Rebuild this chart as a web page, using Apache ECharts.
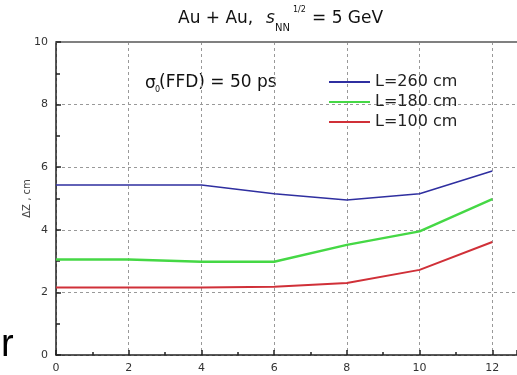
<!DOCTYPE html>
<html>
<head>
<meta charset="utf-8">
<script src="https://cdn.jsdelivr.net/npm/echarts@6/dist/echarts.min.js"></script>
<style>
html,body{margin:0;padding:0;background:#fff;}
#c{width:517px;height:375px;}
</style>
</head>
<body>
<div id="c"></div>
<script>
var xValues = [0, 2, 4, 6, 8, 10, 12];
var seriesNames = ['L=260 cm', 'L=180 cm', 'L=100 cm'];
var L260 = [5.43, 5.43, 5.43, 5.15, 4.95, 5.15, 5.88];
var L180 = [3.05, 3.05, 2.98, 2.98, 3.52, 3.95, 4.98];
var L100 = [2.16, 2.16, 2.16, 2.18, 2.30, 2.72, 3.61];
var colors = ['#2f2fa0', '#45d845', '#d03038'];
var widths = [1.6, 2.4, 2.0];
var yLabel = 'ΔZ , cm';
var annotation = '(FFD) = 50 ps';

function pairs(arr) { return xValues.map(function (x, i) { return [x, arr[i]]; }); }
var allData = [L260, L180, L100];

var font = 'DejaVu Sans';
var chart = echarts.init(document.getElementById('c'), null, {renderer: 'canvas'});
chart.setOption({
  animation: false,
  backgroundColor: '#fff',
  textStyle: {fontFamily: font},
  grid: {left: 56, top: 42, right: 0, bottom: 20, containLabel: false},
  legend: {
    orient: 'vertical', left: 329, top: 74, itemWidth: 41, itemHeight: 2, itemGap: 4,
    padding: 0,
    icon: 'rect',
    textStyle: {fontFamily: font, fontSize: 16, color: '#222'},
    data: seriesNames
  },
  xAxis: [{
    type: 'value', min: 0, max: 12.68, interval: 2,
    axisLine: {show: true, lineStyle: {color: '#222', width: 1.5}},
    axisTick: {show: true, inside: true, length: 5, lineStyle: {color: '#222', width: 1.5}},
    minorTick: {show: true, splitNumber: 2, length: 3, lineStyle: {color: '#222', width: 1.5}},
    axisLabel: {color: '#333', fontSize: 11, margin: 8, showMaxLabel: false, fontFamily: font},
    splitLine: {show: true, lineStyle: {color: '#999', type: [3, 3], width: 1}}
  }, {
    type: 'value', position: 'top', min: 0, max: 12.68,
    axisLine: {show: true, lineStyle: {color: '#808080', width: 2}},
    axisTick: {show: false}, axisLabel: {show: false}, splitLine: {show: false}
  }],
  yAxis: {
    type: 'value', min: 0, max: 10, interval: 2,
    name: yLabel, nameLocation: 'middle', nameGap: 24, nameRotate: 90, nameMoveOverlap: false,
    nameTextStyle: {color: '#444', fontSize: 10, fontFamily: font},
    axisLine: {show: true, lineStyle: {color: '#222', width: 1.5}},
    axisTick: {show: true, inside: true, length: 5, lineStyle: {color: '#222', width: 1.5}},
    minorTick: {show: true, splitNumber: 2, length: 4, lineStyle: {color: '#222', width: 1.5}},
    axisLabel: {color: '#333', fontSize: 11, margin: 8, fontFamily: font},
    splitLine: {show: true, lineStyle: {color: '#999', type: [3, 3], width: 1}}
  },
  series: seriesNames.map(function (n, i) {
    return {
      name: n, type: 'line', data: pairs(allData[i]), showSymbol: false, symbol: 'none',
      color: colors[i],
      lineStyle: {color: colors[i], width: widths[i]}
    };
  }),
  graphic: [
    {type: 'text', left: 178, top: 10, style: {text: 'Au + Au,', font: '17px "DejaVu Sans"', fill: '#111'}},
    {type: 'text', left: 266, top: 10, style: {text: 's', font: 'italic 17px "DejaVu Sans"', fill: '#111'}},
    {type: 'text', left: 275, top: 23, style: {text: 'NN', font: '10px "DejaVu Sans"', fill: '#111'}},
    {type: 'text', left: 293, top: 6, style: {text: '1/2', font: '8px "DejaVu Sans"', fill: '#111'}},
    {type: 'text', left: 312, top: 10, style: {text: '= 5 GeV', font: '17px "DejaVu Sans"', fill: '#111'}},
    {type: 'text', left: 145, top: 75, style: {text: 'σ', font: '17px "DejaVu Sans"', fill: '#111'}},
    {type: 'text', left: 155, top: 86, style: {text: '0', font: '8px "DejaVu Sans"', fill: '#111'}},
    {type: 'text', left: 159, top: 74, style: {text: annotation, font: '17px "DejaVu Sans"', fill: '#111'}},
    {type: 'text', left: 1, top: 327, style: {text: 'r', font: '38px "Liberation Sans"', fill: '#000'}}
  ]
});
</script>
</body>
</html>
